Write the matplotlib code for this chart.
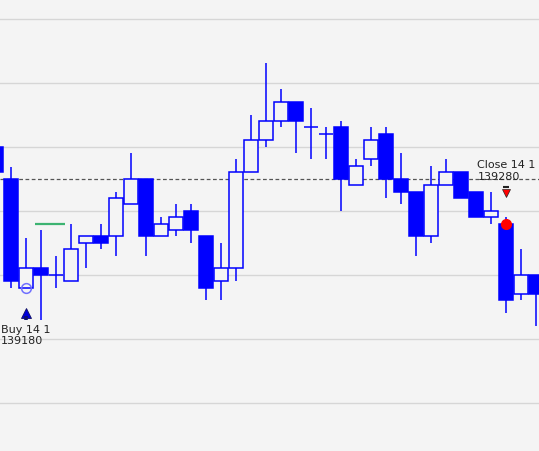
import matplotlib.pyplot as plt
from matplotlib.patches import Rectangle
import numpy as np

# candle data, first bar is only partly visible at the left edge
opens = [139400, 139350, 139180, 139210, 139200, 139190, 139250, 139260, 139260, 139310,
         139350, 139260, 139270, 139300, 139260, 139190, 139210, 139360, 139410, 139440,
         139470, 139430, 139420, 139430, 139340, 139380, 139420, 139350, 139330, 139260,
         139340, 139360, 139330, 139290, 139280, 139170, 139200]
highs = [139405, 139368, 139258, 139270, 139230, 139280, 139260, 139280, 139330, 139390,
         139350, 139290, 139310, 139310, 139260, 139250, 139380, 139450, 139530, 139490,
         139470, 139460, 139430, 139440, 139380, 139430, 139430, 139390, 139330, 139370,
         139380, 139360, 139330, 139330, 139290, 139240, 139200]
lows = [139355, 139180, 139180, 139130, 139180, 139190, 139210, 139240, 139230, 139310,
        139230, 139260, 139260, 139250, 139160, 139160, 139190, 139360, 139400, 139430,
        139390, 139380, 139380, 139300, 139340, 139370, 139320, 139310, 139230, 139250,
        139340, 139320, 139290, 139280, 139140, 139160, 139120]
closes = [139360, 139190, 139210, 139200, 139200, 139240, 139260, 139250, 139320, 139350,
          139260, 139280, 139290, 139270, 139180, 139210, 139360, 139410, 139440, 139470,
          139440, 139430, 139420, 139350, 139370, 139410, 139350, 139330, 139260, 139340,
          139360, 139320, 139290, 139300, 139160, 139200, 139170]

buy_bar, buy_price, buy_label = 2, 139180, "Buy 14 1\n139180"
close_bar, close_price, close_label = 34, 139280, "Close 14 1\n139280"
level_price = 139350
green_level, green_from, green_to = 139280, 2.6, 4.6

bg = "#f4f4f4"
blue = "#0000ff"

fig = plt.figure(figsize=(5.39, 4.52), dpi=100)
fig.patch.set_facecolor(bg)
ax = fig.add_axes([0, 0, 1, 1])
ax.set_facecolor(bg)
ax.set_xlim(0.2667, 36.2)
ax.set_ylim(138925, 139630.5)
ax.axis("off")

for g in range(139000, 139700, 100):
    ax.axhline(g, color="#d6d6d6", linewidth=1.0, zorder=0)

ax.axhline(level_price, color="#555555", linewidth=0.9, linestyle=(0, (3, 2)), zorder=1)

w = 0.867
for i, (o, h, l, c) in enumerate(zip(opens, highs, lows, closes)):
    top, bot = max(o, c), min(o, c)
    if h > top:
        ax.vlines(i, top, h, color=blue, linewidth=1.1, zorder=2)
    if l < bot:
        ax.vlines(i, l, bot, color=blue, linewidth=1.1, zorder=2)
    if o == c:
        ax.hlines(o, i - w / 2, i + w / 2, color=blue, linewidth=1.1, zorder=3)
    elif c < o:
        ax.add_patch(Rectangle((i - w / 2, bot), w, top - bot, facecolor=blue,
                               edgecolor=blue, linewidth=1.1, zorder=3))
    else:
        ax.add_patch(Rectangle((i - w / 2, bot), w, top - bot, facecolor=bg,
                               edgecolor=blue, linewidth=1.1, zorder=3))

ax.hlines(green_level, green_from, green_to, color="#3cb371", linewidth=1.6, zorder=2)

# buy marker
ax.plot(buy_bar, buy_price, "o", markersize=7, markerfacecolor="none",
        markeredgecolor="#7070ff", markeredgewidth=1.1, zorder=4)
ax.plot(buy_bar, buy_price - 39, "^", markersize=7, color="#0000dd",
        markeredgecolor="#101060", markeredgewidth=0.6, zorder=4)
ax.vlines(buy_bar, buy_price - 51, buy_price - 44, color="#101070", linewidth=2.6, zorder=4)
ax.text(0.33, buy_price - 57, buy_label, fontsize=8, color="#222222",
        va="top", ha="left", linespacing=1.15)

# close marker
ax.plot(close_bar, close_price, "o", markersize=7, color="#ff0000", zorder=5)
ax.plot(close_bar, close_price + 48, "v", markersize=6, color="#ff0000",
        markeredgecolor="#222222", markeredgewidth=0.5, zorder=4)
ax.hlines(close_price + 57, close_bar - 0.2, close_bar + 0.2, color="#222222", linewidth=1.5, zorder=4)
ax.text(32.1, close_price + 100, close_label, fontsize=8, color="#222222",
        va="top", ha="left", linespacing=1.15)

fig.savefig("out.png", dpi=100, facecolor=bg)
